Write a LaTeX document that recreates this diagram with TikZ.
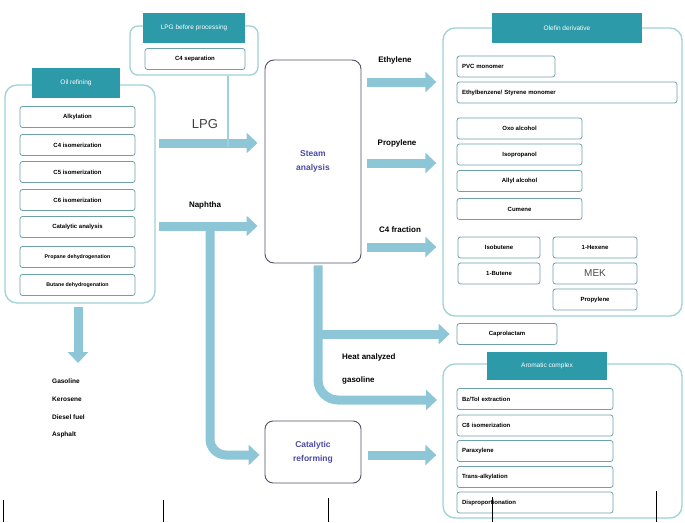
\documentclass[tikz,border=0pt]{standalone}
\usepackage{fontspec}
\setmainfont{Liberation Sans}
\usetikzlibrary{arrows.meta}
\definecolor{teal1}{RGB}{44,154,168}
\definecolor{flowc}{RGB}{141,198,214}
\definecolor{grpc}{RGB}{158,210,214}
\definecolor{boxc}{RGB}{110,160,170}
\definecolor{procc}{RGB}{80,80,104}
\definecolor{proct}{RGB}{75,75,165}
\tikzset{
  grp/.style={draw=grpc, line width=1.3pt, rounded corners=12pt, fill=white, inner sep=0pt},
  hdr/.style={fill=teal1, text=white, font=\fontsize{6.5}{7}\selectfont, inner sep=0pt},
  ibox/.style={draw=boxc, line width=0.8pt, rounded corners=2.5pt, fill=white, inner sep=0pt,
     minimum height=21pt, font=\fontsize{6}{7}\selectfont\bfseries},
  lbox/.style={ibox, text width=#1, align=left, inner xsep=5pt},
  proc/.style={draw=procc, line width=0.9pt, rounded corners=9pt, fill=white, inner sep=0pt,
     text=proct, font=\fontsize{8.5}{14}\selectfont\bfseries, align=center},
  flow/.style={draw=flowc, line width=9pt, -{Triangle[width=20pt,length=11pt]}},
  lab/.style={font=\fontsize{8}{13}\selectfont\bfseries, inner sep=0pt},
  prod/.style={font=\fontsize{6.5}{7}\selectfont\bfseries, inner sep=0pt, anchor=west},
  tick/.style={draw=black, line width=1pt}
}
\begin{document}
\begin{tikzpicture}[x=1pt,y=-1pt]
\useasboundingbox (0,0) rectangle (685,522);
% ---- groups
\node[grp, minimum width=150pt, minimum height=218pt] (oil) at (80,194) {};
\node[hdr, minimum width=88pt, minimum height=30pt] (oilh) at (76,83) {Oil refining};
\node[grp, rounded corners=8pt, minimum width=128pt, minimum height=49pt] (lpgg) at (194,50.5) {};
\node[hdr, minimum width=102pt, minimum height=30pt] (lpgh) at (194,28) {LPG before processing};
\node[ibox, minimum width=100pt] (c4sep) at (195,59) {C4 separation};
\node[grp, minimum width=239pt, minimum height=288pt] (ole) at (562.5,172) {};
\node[hdr, minimum width=150pt, minimum height=30pt] (oleh) at (567,28) {Olefin derivative};
\node[grp, minimum width=239pt, minimum height=154pt] (aro) at (562.5,441) {};
\node[hdr, minimum width=120pt, minimum height=28pt] (aroh) at (547,366) {Aromatic complex};
% ---- oil refining items
\node[ibox, minimum width=115pt] (o1) at (77.5,117) {Alkylation};
\node[ibox, minimum width=115pt] (o2) at (77.5,145) {C4 isomerization};
\node[ibox, minimum width=115pt] (o3) at (77.5,172) {C5 isomerization};
\node[ibox, minimum width=115pt] (o4) at (77.5,200) {C6 isomerization};
\node[ibox, minimum width=115pt] (o5) at (77.5,227) {Catalytic analysis};
\node[ibox, minimum width=115pt, font=\fontsize{5.3}{6}\selectfont\bfseries] (o6) at (77.5,257) {Propane dehydrogenation};
\node[ibox, minimum width=115pt, font=\fontsize{5.3}{6}\selectfont\bfseries] (o7) at (77.5,285) {Butane dehydrogenation};
% ---- process boxes
\node[proc, minimum width=96pt, minimum height=203pt] (steam) at (313,161.5) {Steam\\analysis};
\node[proc, rounded corners=8pt, minimum width=96pt, minimum height=62pt] (cat) at (313,452) {Catalytic\\reforming};
% ---- olefin items
\node[lbox=88pt] (e1) at (506,66.5) {PVC monomer};
\node[lbox=210pt] (e2) at (567,92.5) {Ethylbenzene/ Styrene monomer};
\node[ibox, minimum width=125pt] (p1) at (519.5,128.5) {Oxo alcohol};
\node[ibox, minimum width=125pt] (p2) at (519.5,154.5) {Isopropanol};
\node[ibox, minimum width=125pt] (p3) at (519.5,181) {Allyl alcohol};
\node[ibox, minimum width=125pt] (p4) at (519.5,209) {Cumene};
\node[ibox, minimum width=82pt] (b1) at (499,247.5) {Isobutene};
\node[ibox, minimum width=82pt] (b2) at (499,273.5) {1-Butene};
\node[ibox, minimum width=84pt] (b3) at (595,247.5) {1-Hexene};
\node[ibox, minimum width=84pt, font=\fontsize{10}{11}\selectfont, text=black!70] (b4) at (595,273.5) {MEK};
\node[ibox, minimum width=84pt] (b5) at (595,299.5) {Propylene};
\node[ibox, minimum width=100pt] (cap) at (507,334) {Caprolactam};
% ---- aromatic items
\node[lbox=146pt] (a1) at (535,399) {Bz/Tol extraction};
\node[lbox=146pt] (a2) at (535,425.5) {C8 isomerization};
\node[lbox=146pt] (a3) at (535,451) {Paraxylene};
\node[lbox=146pt] (a4) at (535,477) {Trans-alkylation};
\node[lbox=146pt] (a5) at (535,502.5) {Disproportionation};
% ---- coordinates
\coordinate (lpgY) at (0,143);
\coordinate (napY) at (0,226);
\coordinate (napX) at (210,0);
\coordinate (stX) at (318,0);
\coordinate (capY) at (0,334);
\coordinate (gasY) at (0,400);
\coordinate (gasE) at (437,400);
\coordinate (refY) at (0,455);
\coordinate (lpgX) at (228,0);
% ---- flows
\draw[flow, shorten <=3pt, shorten >=7pt] (oil.east |- lpgY) -- (steam.west |- lpgY);
\draw[flow, shorten <=3pt, shorten >=7pt] (oil.east |- napY) -- (steam.west |- napY);
\draw[flow, rounded corners=16pt, shorten >=5pt] (napX |- napY) -- (napX |- refY) -- (cat.west |- refY);
\draw[draw=grpc, line width=1.2pt] (lpgg.south -| lpgX) -- ([yshift=-4pt]lpgX |- lpgY);
\draw[flow, shorten <=6pt, shorten >=6pt] (steam.east |- 0,82) -- (ole.west |- 0,82);
\draw[flow, shorten <=6pt, shorten >=6pt] (steam.east |- 0,163) -- (ole.west |- 0,163);
\draw[flow, shorten <=6pt, shorten >=6pt] (steam.east |- 0,247) -- (ole.west |- 0,247);
\draw[flow, rounded corners=20pt, shorten <=2pt] (steam.south -| stX) -- (stX |- gasY) -- (gasE);
\draw[flow, shorten >=7pt] (stX |- capY) -- (cap.west);
\draw[flow, shorten <=7pt, shorten >=6pt] (cat.east |- refY) -- (aro.west |- refY);
\draw[flow, shorten <=3pt] (oil.south -| 78,0) -- (78,363);
% ---- labels
\node[lab] (l1) at (395,60) {Ethylene};
\node[lab] (l2) at (397,143) {Propylene};
\node[lab] (l3) at (400,230) {C4 fraction};
\node[inner sep=0pt, font=\fontsize{13}{14}\selectfont, text=black!75] (l4) at (205,124) {LPG};
\node[lab] (l5) at (205,205) {Naphtha};
\node[lab, anchor=west, align=left, font=\fontsize{8}{23}\selectfont\bfseries] (l6) at (342,368.5) {Heat analyzed\\gasoline};
\node[prod] (g1) at (52,381) {Gasoline};
\node[prod] (g2) at (52,399) {Kerosene};
\node[prod] (g3) at (52,417) {Diesel fuel};
\node[prod] (g4) at (52,435) {Asphalt};
% ---- ticks
\draw[tick] (3,500) -- (3,522);
\draw[tick] (163,500) -- (163,522);
\draw[tick] (328,498) -- (328,522);
\draw[tick] (492,497) -- (492,522);
\draw[tick] (656,491) -- (656,522);
\end{tikzpicture}
\end{document}
